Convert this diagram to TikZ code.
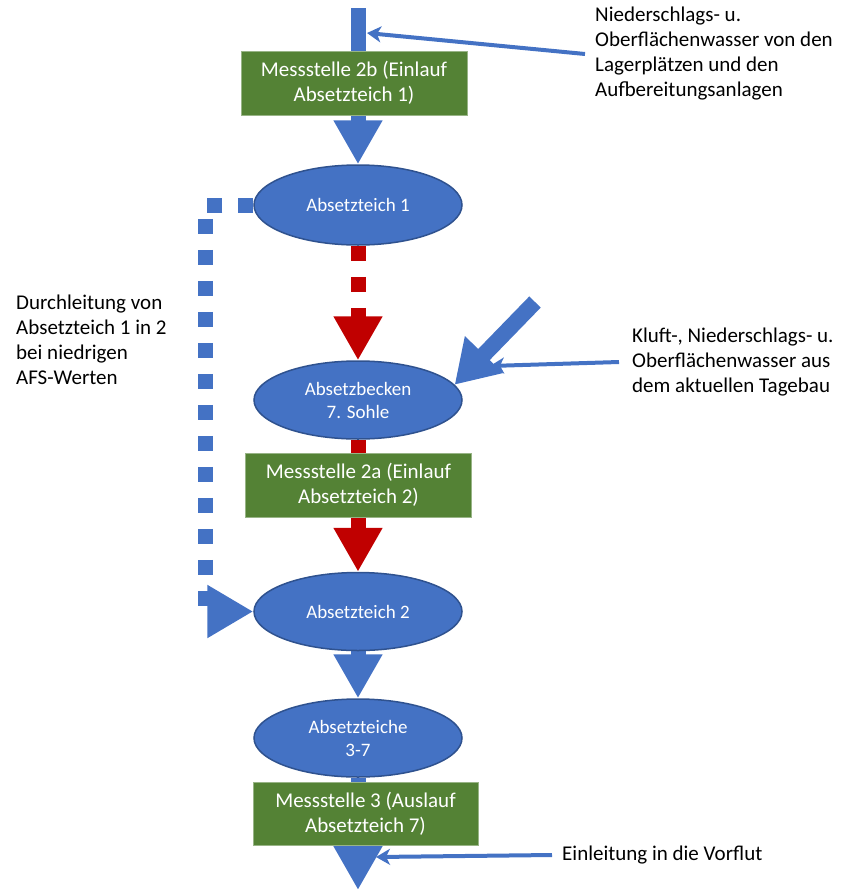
\documentclass[tikz,border=0pt]{standalone}
\usepackage{fontspec}
\setmainfont{Carlito}
\usetikzlibrary{arrows.meta,shapes.geometric,backgrounds}
\definecolor{fblue}{HTML}{4472C4}
\definecolor{fborder}{HTML}{2F528F}
\definecolor{fgreen}{HTML}{548235}
\definecolor{fred}{HTML}{C00000}
\begin{document}
\begin{tikzpicture}[x=1pt,y=-1pt,
 pond/.style={ellipse, fill=fblue, draw=fborder, line width=1.5pt, minimum width=208pt, minimum height=78pt, inner sep=0pt, text=white, align=center, font=\fontsize{19}{23}\selectfont},
 mbox/.style={rectangle, fill=fgreen, draw=fgreen!60!white, line width=0.8pt, minimum width=226pt, minimum height=64pt, inner sep=0pt, text=white, align=center, font=\fontsize{21}{25}\selectfont},
 lab/.style={align=left, inner sep=0pt, font=\fontsize{21}{25}\selectfont, text=black},
 flow/.style={line width=15pt, draw=fblue},
 flowhead/.style={-{Triangle[width=46pt,length=44pt]}},
 thinarrow/.style={line width=4pt, draw=fblue, -{Stealth[width=16pt,length=14pt,inset=4pt]}}]
\useasboundingbox (0,0) rectangle (841,892);

% nodes
\node[mbox] (m2b) at (354,83) {Messstelle 2b (Einlauf\\Absetzteich 1)};
\node[pond, minimum height=80pt] (t1) at (358,205) {Absetzteich 1};
\node[pond] (b7) at (358,400) {Absetzbecken\\7. Sohle};
\node[mbox] (m2a) at (358.5,485) {Messstelle 2a (Einlauf\\Absetzteich 2)};
\node[pond] (t2) at (358,611.5) {Absetzteich 2};
\node[pond] (t37) at (358,738) {Absetzteiche\\3-7};
\node[mbox, minimum width=225pt, minimum height=63pt] (m3) at (365.5,813.5) {Messstelle 3 (Auslauf\\Absetzteich 7)};

\node[lab, anchor=west, inner xsep=10pt] (n1) at (585,54) {Niederschlags- u.\\Oberflächenwasser von den\\Lagerplätzen und den\\Aufbereitungsanlagen};
\node[lab, anchor=west, inner xsep=13pt] (n2) at (619,362) {Kluft-, Niederschlags- u.\\Oberflächenwasser aus\\dem aktuellen Tagebau};
\node[lab, anchor=west, inner xsep=10pt] (n3) at (552,855) {Einleitung in die Vorflut};
\node[lab, anchor=west] (nl) at (16,340) {Durchleitung von\\Absetzteich 1 in 2\\bei niedrigen\\AFS-Werten};

\coordinate (top) at (358,8);
\coordinate (out) at (358,890);
\coordinate (bx) at (205,400);
\coordinate (dg) at (535,302);
\coordinate (tip1) at (367,33);
\coordinate (tip2) at (490,366);
\coordinate (tip3) at (376,857);

\begin{scope}[on background layer]
\draw[flow] (top) -- (top |- m2b.center);
\draw[flow, flowhead] (t1.north |- m2b.south) -- (t1.north);
\draw[flow, draw=fred, dash pattern=on 15pt off 16pt, flowhead] (t1.south) -- (b7.north);
\draw[flow, draw=fred] (b7.south) -- (b7.south |- m2a.north);
\draw[flow, draw=fred, fill=fred, flowhead] (t2.north |- m2a.south) -- (t2.north);
\draw[flow, flowhead] (t2.south) -- (t37.north);
\draw[flow] (t37.south) -- (t37.south |- m3.north);
\draw[flow, flowhead] (out |- m3.south) -- (out);
\draw[flow, dash pattern=on 15pt off 16pt, -{Triangle[width=50pt,length=46pt]}]
  (t1.west) -- (t1.west -| bx) -- (t2.west -| bx) -- (t2.west);
\end{scope}

\draw[line width=16pt, draw=fblue, -{Triangle[width=50pt,length=42pt]}] (dg) -- (b7.9);
\draw[thinarrow] (n1.west) -- (tip1);
\draw[thinarrow] (n2.west) -- (tip2);
\draw[thinarrow] (n3.west) -- (tip3);
\end{tikzpicture}
\end{document}
